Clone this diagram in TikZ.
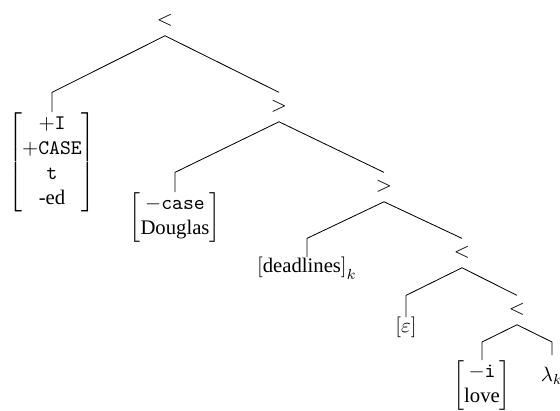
\documentclass[tikz,border=0pt]{standalone}
\usepackage{fontspec}
\setmainfont{Liberation Serif}
\newlength{\du}
\setlength{\du}{0.4831pt}
\tikzset{
  op/.style={inner xsep=1pt, inner ysep=3.4pt, text height=5.4pt, text depth=1.6pt, anchor=base},
  leaf/.style={inner sep=0pt, anchor=north},
}
\newcommand{\featbox}[1]{\left[\begin{array}{@{}c@{}}#1\end{array}\right]}

\begin{document}
\begin{tikzpicture}[x=\du,y=-\du]
\useasboundingbox (0,0) rectangle (560,410);
% operators
\node[op] (r) at (165,25) {$<$};
\node[op] (g1) at (279,111) {$>$};
\node[op] (g2) at (384,191) {$>$};
\node[op] (l3) at (462,257) {$<$};
\node[op] (l4) at (517,314) {$<$};
\coordinate (k4) at (517,342);
% leaves
\node[leaf] (infl) at (52,112) {$\featbox{+\texttt{I}\\+\texttt{CASE}\\\texttt{t}\\\mbox{-ed}}$};
\node[leaf] (dougl) at (175,192) {$\featbox{-\texttt{case}\\\mbox{Douglas}}$};
\node[leaf] (dead) at (307,257) {$\left[\mbox{deadlines}\right]_k$};
\node[leaf] (eps) at (406,317) {$[\varepsilon]$};
\node[leaf] (love) at (482,360) {$\featbox{-\texttt{i}\\\mbox{love}}$};
\node[leaf, inner ysep=5.8pt] (lam) at (552,355) {$\lambda_k$};
% branches
\draw (r.south) -- (infl.north |- g1.north) -- (infl.north);
\draw (r.south) -- (g1.north);
\draw (g1.south) -- (dougl.north |- g2.north) -- (dougl.north);
\draw (g1.south) -- (g2.north);
\draw (g2.south) -- (dead.north |- l3.north) -- (dead.north);
\draw (g2.south) -- (l3.north);
\draw (l3.south) -- (eps.north |- l4.north) -- (eps.north);
\draw (l3.south) -- (l4.north);
\draw (l4.south) -- (love.north |- k4) -- (love.north);
\draw (l4.south) -- (lam.north |- k4) -- (lam.north);
\end{tikzpicture}
\end{document}
